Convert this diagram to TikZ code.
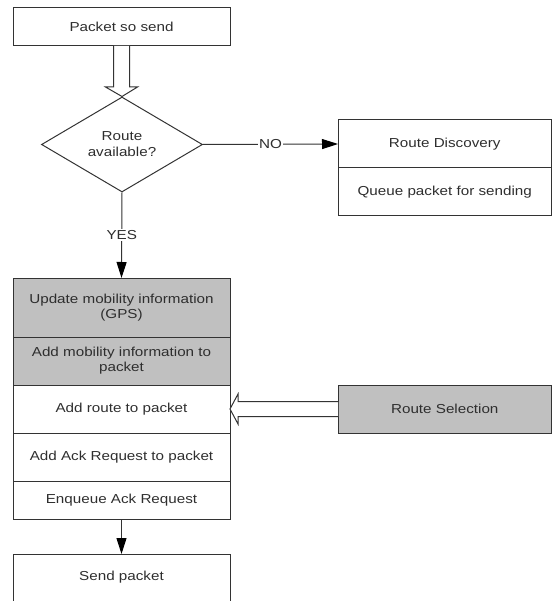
\documentclass[tikz,border=0pt]{standalone}
\usepackage{fontspec}
\setmainfont[FakeStretch=1.17]{Liberation Sans}
\usetikzlibrary{shapes.geometric,arrows.meta,calc}
\definecolor{ln}{HTML}{333333}
\definecolor{tx}{HTML}{2E2E2E}
\definecolor{gr}{HTML}{C0C0C0}
\begin{document}
\begin{tikzpicture}[x=1pt,y=-1pt,
  font=\fontsize{13}{15}\selectfont,
  box/.style={draw=ln, line width=1pt, text=tx, inner sep=0pt, outer sep=0pt,
              align=center, minimum width=217pt},
  rbox/.style={box, minimum width=213.5pt, minimum height=48pt},
  shade/.style={fill=gr},
  conn/.style={draw=ln, line width=1pt, -{Triangle[length=16pt,width=10pt,color=black]}},
  hollow/.style={draw=ln, line width=1pt, fill=white},
  lbl/.style={fill=white, text=tx, inner sep=1.5pt}]
\useasboundingbox (0,0) rectangle (552,601);

% top
\node[box, minimum height=38pt] (start) at (121.5,27) {Packet so send};
\node[diamond, draw=ln, line width=1pt, text=tx, inner sep=0pt, aspect=1.7,
      minimum width=161pt, minimum height=95pt, align=center] (dec) at (122,144.5)
      {\raisebox{-2pt}{Route}\\[3pt]available?};

% right column
\node[rbox] (rd) at (444.75,144) {Route Discovery};
\node[rbox] (qp) at (444.75,192) {Queue packet for sending};
\node[rbox, shade] (rs) at (444.75,409) {Route Selection};

% stack
\node[box, shade, minimum height=59pt] (s1) at (121.5,307.5) {Update mobility information\\(GPS)};
\node[box, shade, minimum height=48pt] (s2) at (121.5,361) {Add mobility information to\\packet};
\node[box, minimum height=48pt] (s3) at (121.5,409) {Add route to packet};
\node[box, minimum height=48pt] (s4) at (121.5,457) {Add Ack Request to packet};
\node[box, minimum height=38pt] (s5) at (121.5,500) {Enqueue Ack Request};

% send packet (bottom edge runs off the page)
\node[box, draw=none, minimum height=46pt] (sp) at (121.5,577) {Send packet};
\draw[draw=ln, line width=1pt] ($(sp.south west)+(0,20)$) -- (sp.north west)
      -- (sp.north east) -- ($(sp.south east)+(0,20)$);

% hollow arrows
\draw[hollow] ($(start.south)+(-8,0)$) -- ($(start.south)+(-8,41)$)
  -- ($(start.south)+(-16,41)$) -- (dec.north) -- ($(start.south)+(16,41)$)
  -- ($(start.south)+(8,41)$) -- ($(start.south)+(8,0)$);
\draw[hollow] ($(rs.west)+(0,-7.5)$) -- ($(rs.west)+(-100,-7.5)$)
  -- ($(rs.west)+(-100,-15)$) -- (s3.east) -- ($(rs.west)+(-100,15)$)
  -- ($(rs.west)+(-100,7.5)$) -- ($(rs.west)+(0,7.5)$);

% connectors
\draw[conn] (dec.east) -- node[lbl] {NO} (rd.west);
\draw[conn] (dec.south) -- node[lbl] {YES} (s1.north);
\draw[conn] (s5.south) -- (sp.north);
\end{tikzpicture}
\end{document}
